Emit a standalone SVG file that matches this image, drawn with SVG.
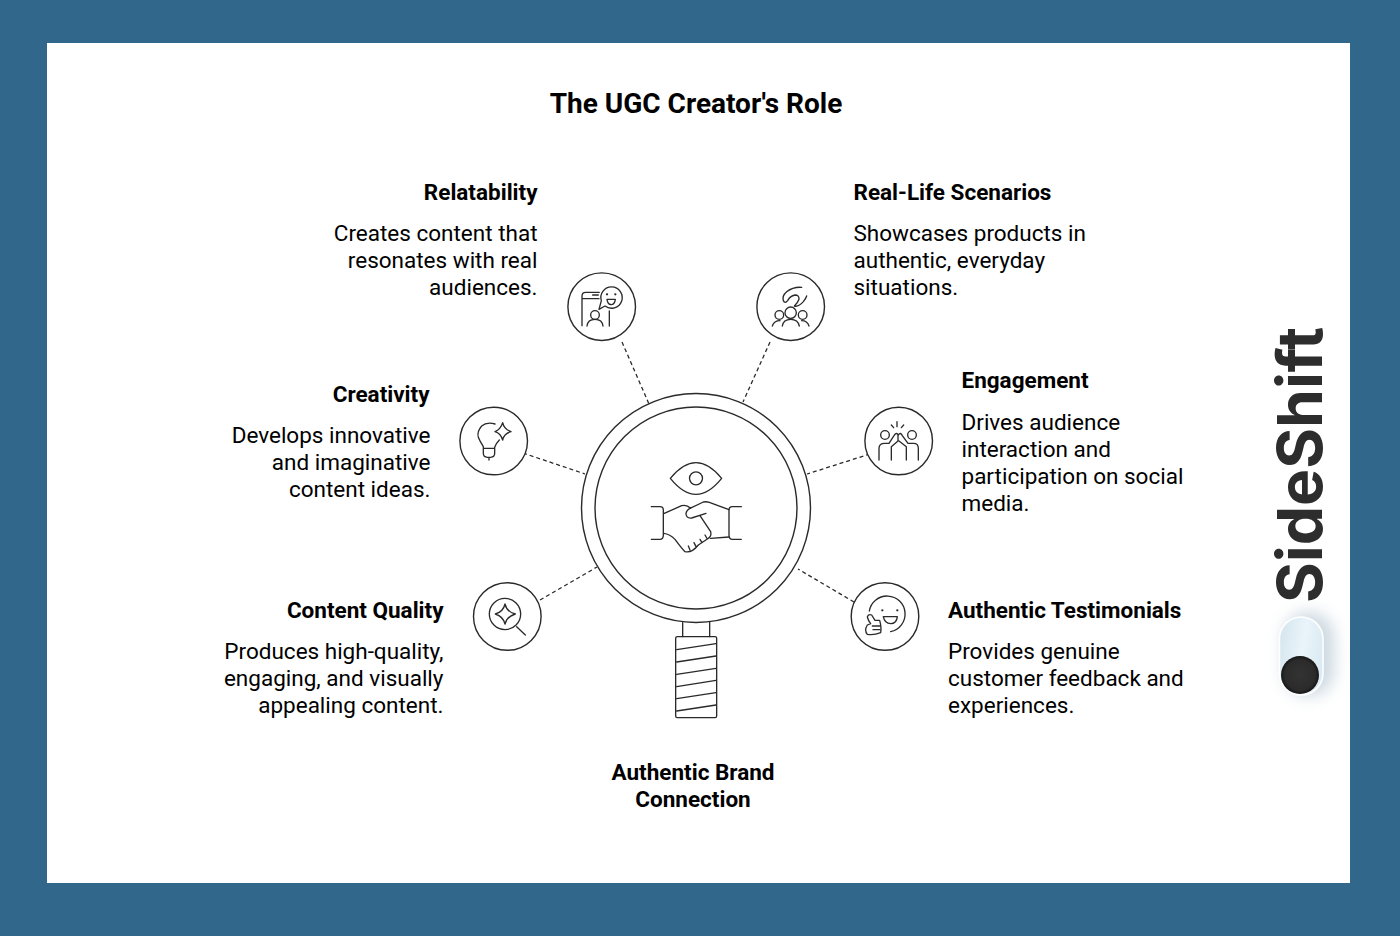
<svg xmlns="http://www.w3.org/2000/svg" width="1400" height="936" viewBox="0 0 1400 936">
<style>
text{font-family:Roboto,"Liberation Sans",sans-serif;fill:#000}
.t{font-size:28px;font-weight:700}
.h{font-size:22.500px;font-weight:700}
.b{font-size:22.500px}
.e{text-anchor:end}
.m{text-anchor:middle}
.c{fill:#fff;stroke:#2a2a2a;stroke-width:1.4}
.l{fill:none;stroke:#2a2a2a;stroke-width:4;stroke-linecap:round;stroke-linejoin:round}
.d{fill:#2a2a2a;stroke:none}
.cn{fill:none;stroke:#2a2a2a;stroke-width:1.3;stroke-dasharray:4 3}
</style>
<defs>
<filter id="bl" x="-60%" y="-60%" width="220%" height="220%"><feGaussianBlur stdDeviation="8"/></filter>
<linearGradient id="tg" x1="0" y1="0" x2="1" y2="0.3"><stop offset="0" stop-color="#d3e4ed"/><stop offset="0.6" stop-color="#eaf4fa"/><stop offset="1" stop-color="#dcebf3"/></linearGradient>
<radialGradient id="kn"><stop offset="0" stop-color="#333"/><stop offset="0.8" stop-color="#2b2b2b"/><stop offset="1" stop-color="#161616"/></radialGradient>
</defs>
<rect width="1400" height="936" fill="#31678a"/>
<rect x="47" y="43" width="1303" height="840" fill="#fff"/>
<text class="t m" x="696" y="113">The UGC Creator's Role</text>

<g id="connectors">
<path class="cn" d="M622 342L649 404"/>
<path class="cn" d="M770 342L743 402"/>
<path class="cn" d="M523 453L585 474"/>
<path class="cn" d="M540 600L597 567"/>
<path class="cn" d="M870 454L807 474"/>
<path class="cn" d="M854 602L798 569"/>
</g>

<g id="center">
<circle cx="696" cy="508" r="114.500" class="c"/>
<circle cx="696" cy="508" r="101" class="c"/>
<g transform="translate(620 440) scale(.33333)">
<path class="l" d="M151 115Q190 68 228 68Q266 68 305 115Q266 163 228 163Q190 163 151 115Z"/>
<circle class="l" cx="228" cy="115" r="19.500"/>
<path class="l" d="M94 200H120Q130 200 130 210V285Q130 298 120 298H94M364 200H337Q327 200 327 210V285Q327 298 337 298H364"/>
<path class="l" d="M131 221L185 197Q200 193 212 205M258 220L215 234Q200 236 198 222Q198 212 210 205L250 186Q258 184 268 187L327 209M327 291L272 295"/>
<path class="l" d="M240 227L272 275Q276 290 262 297L235 315Q215 340 195 335Q185 325 165 298Q150 282 131 280M262 297L255 285M246 308L240 298M228 320L222 308M210 330L205 318"/>
<path class="l" d="M188 548V590M269 545V590"/>
<rect class="l" x="167" y="590" width="123" height="243" rx="5"/>
<path class="l" d="M170 629L288 611M170 666L288 648M170 703L288 685M170 740L288 721M170 776L288 758M170 813L288 795"/>
</g>
</g>

<g id="relatability">
<text class="h e" x="537.500" y="200">Relatability</text>
<text class="b e" x="537.500" y="240.500">Creates content that</text>
<text class="b e" x="537.500" y="267.500">resonates with real</text>
<text class="b e" x="537.500" y="294.500">audiences.</text>
<circle cx="601.700" cy="306.700" r="33.800" class="c"/>
<g transform="translate(550 260) scale(.33333)">
<path class="l" d="M96 197V108Q96 97 107 97H148M96 116H147M128 105H145M178 153V198"/>
<circle class="l" cx="135" cy="165" r="13"/>
<path class="l" d="M111 198Q113 178 135 178Q157 178 159 198"/>
<path class="l" d="M165 138A32 32 0 1 0 154 122L147 148Z"/>
<circle class="d" cx="171" cy="103" r="3.500"/><circle class="d" cx="196" cy="103" r="3.500"/>
<path class="l" d="M171 118H196Q194 134 183 134Q173 133 171 118Z"/>
</g>
</g>

<g id="real-life">
<text class="h" x="853.500" y="200">Real-Life Scenarios</text>
<text class="b" x="853.500" y="240.500">Showcases products in</text>
<text class="b" x="853.500" y="267.500">authentic, everyday</text>
<text class="b" x="853.500" y="294.500">situations.</text>
<circle cx="790.700" cy="306.700" r="33.800" class="c"/>
<g transform="translate(550 260) scale(.33333)">
<circle class="l" cx="722" cy="158" r="17"/><circle class="l" cx="688" cy="165" r="13"/><circle class="l" cx="758" cy="165" r="13"/>
<path class="l" d="M667 198Q672 182 690 182M697 198Q700 178 722 178Q744 178 748 198M755 182Q772 182 777 198"/>
</g>
<g transform="translate(765 280) scale(.33333)">
<path class="l" d="M110 22Q85 20 65 35Q50 48 55 62Q60 72 68 62Q75 48 90 45Q103 45 102 58Q98 70 88 78Q100 82 115 65Q123 55 125 48"/>
</g>
</g>

<g id="creativity">
<text class="h e" x="429.500" y="402">Creativity</text>
<text class="b e" x="430.500" y="442.500">Develops innovative</text>
<text class="b e" x="430.500" y="469.500">and imaginative</text>
<text class="b e" x="430.500" y="496.500">content ideas.</text>
<circle cx="493.700" cy="441" r="33.800" class="c"/>
<g transform="translate(450 400) scale(.33333)">
<path class="l" d="M135 72Q110 65 95 78Q80 95 85 112Q90 125 100 140V160Q100 172 112 172H122Q134 172 134 160V142Q138 130 148 120M100 145H134M117 172V180"/>
<path class="l" d="M158 68Q162 88 183 95Q162 100 158 120Q152 100 135 95Q152 88 158 68Z"/>
</g>
</g>

<g id="engagement">
<text class="h" x="961.500" y="388">Engagement</text>
<text class="b" x="961.500" y="429.500">Drives audience</text>
<text class="b" x="961.500" y="456.500">interaction and</text>
<text class="b" x="961.500" y="483.500">participation on social</text>
<text class="b" x="961.500" y="510.500">media.</text>
<circle cx="898.700" cy="441" r="33.800" class="c"/>
<g transform="translate(873 415) scale(.33333)">
<circle class="l" cx="36" cy="60" r="13"/><circle class="l" cx="117" cy="60" r="13"/>
<path class="l" d="M18 135V100Q18 85 35 85H48L63 62Q70 50 76 60Q82 50 88 62L105 85H122Q136 85 136 100V135"/>
<path class="l" d="M55 135V95L75 78V60M100 135V95L78 78M72 20V35M55 30L62 38M92 30L85 38"/>
</g>
</g>

<g id="content-quality">
<text class="h e" x="443.500" y="618">Content Quality</text>
<text class="b e" x="443.500" y="658.500">Produces high-quality,</text>
<text class="b e" x="443.500" y="685.500">engaging, and visually</text>
<text class="b e" x="443.500" y="712.500">appealing content.</text>
<circle cx="507.300" cy="616.500" r="33.800" class="c"/>
<g transform="translate(450 400) scale(.33333)">
<circle class="l" cx="165" cy="642" r="47"/>
<path class="l" d="M165 612Q170 635 196 642Q170 650 165 672Q160 650 136 642Q160 635 165 612ZM200 680L226 705"/>
</g>
</g>

<g id="testimonials">
<text class="h" x="948" y="618">Authentic Testimonials</text>
<text class="b" x="948" y="658.500">Provides genuine</text>
<text class="b" x="948" y="685.500">customer feedback and</text>
<text class="b" x="948" y="712.500">experiences.</text>
<circle cx="885" cy="616.500" r="33.800" class="c"/>
<g transform="translate(859 591) scale(.33333)">
<path class="l" d="M31 60A54 54 0 1 1 95 122"/>
<circle class="d" cx="70" cy="58" r="3.500"/><circle class="d" cx="115" cy="58" r="3.500"/>
<path class="l" d="M73 77H115Q113 98 95 98Q77 98 73 77Z"/>
<path class="l" d="M38 72Q28 68 25 78Q28 90 35 98L25 102Q15 118 25 130Q45 133 65 125Q68 110 62 88L48 88ZM40 105H62M42 116H62"/>
</g>
</g>

<g id="brand">
<text class="h m" x="693" y="780">Authentic Brand</text>
<text class="h m" x="693" y="806.500">Connection</text>
</g>

<g id="sideshift">
<rect x="1284" y="612" width="50" height="84" rx="25" fill="#8fa9bb" opacity=".45" filter="url(#bl)"/>
<rect x="1279.500" y="617" width="43.500" height="78" rx="21.750" fill="url(#tg)" stroke="#fff" stroke-width="1.500"/>
<circle cx="1300" cy="675" r="19" fill="url(#kn)"/>
<text transform="translate(1322 603) rotate(-90)" style="font-family:Inter,'Liberation Sans',sans-serif;font-size:62.400px;font-weight:700;fill:#2d2d2d">SideShift</text>
</g>
</svg>
